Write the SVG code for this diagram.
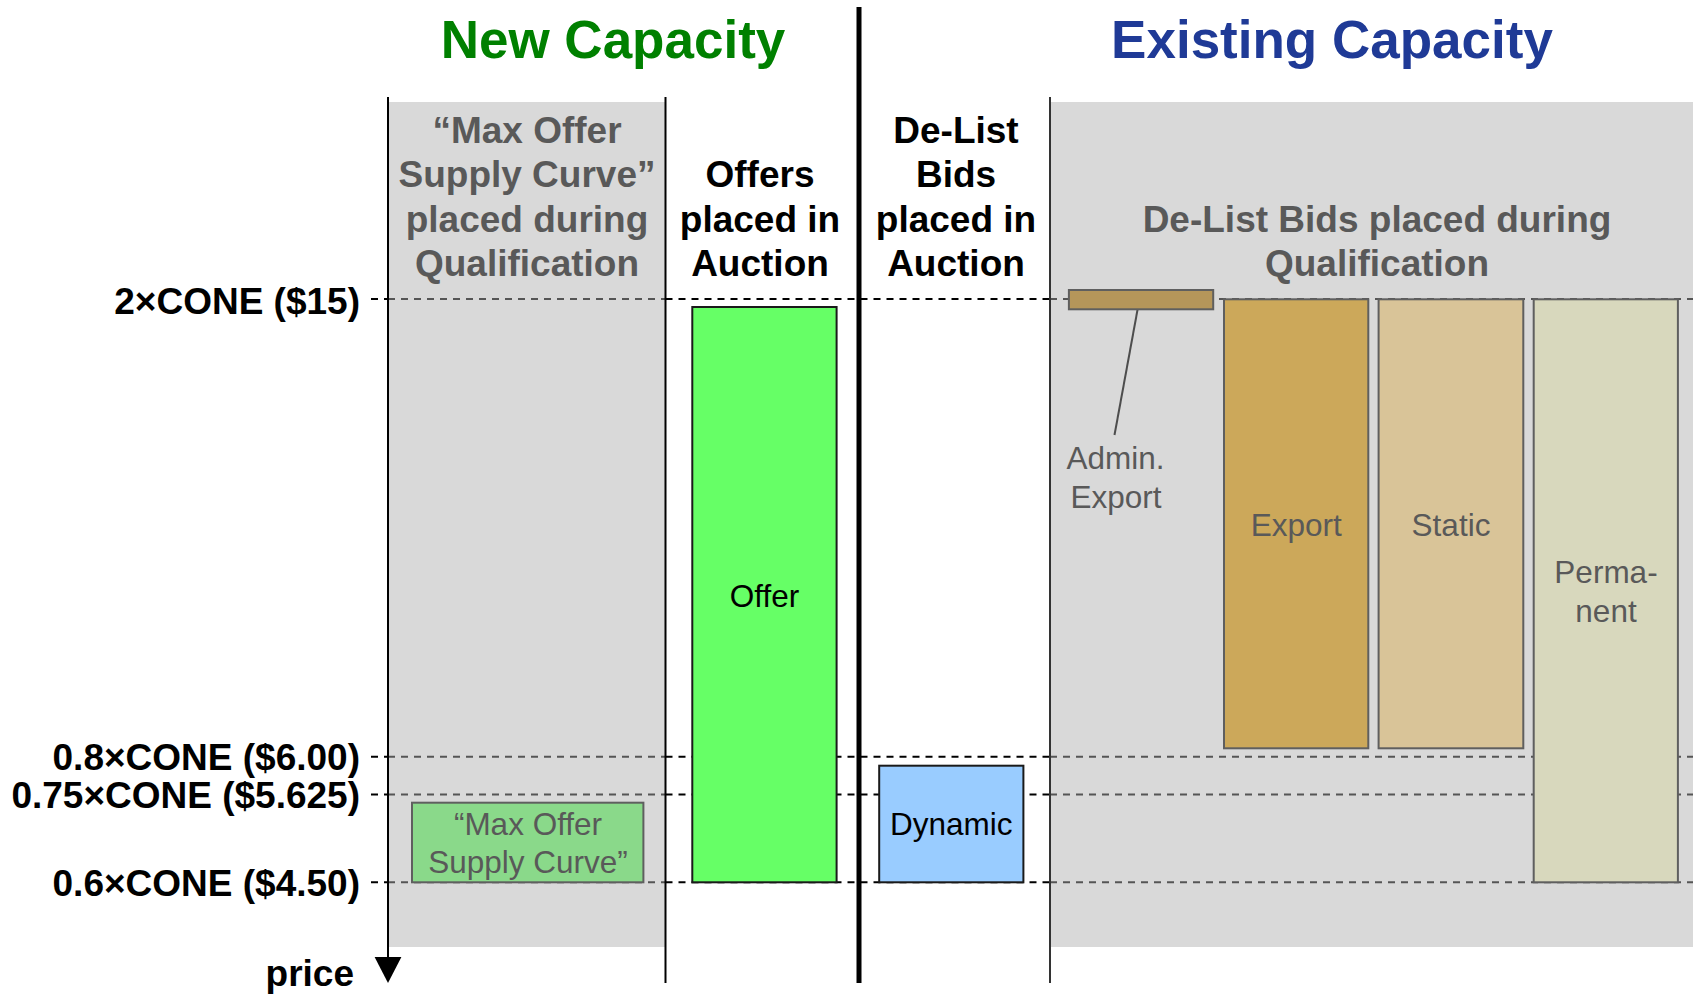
<svg xmlns="http://www.w3.org/2000/svg" width="1693" height="995" viewBox="0 0 1693 995">
<defs>
<style>
text{font-family:"Liberation Sans",Arial,sans-serif}
.title{font-size:53px;font-weight:bold;text-anchor:middle}
.hdr{font-size:37px;font-weight:bold;text-anchor:middle}
.lvl{font-size:37px;font-weight:bold;text-anchor:end;fill:#000}
.lbl{font-size:31.5px;text-anchor:middle}
.gray{fill:#595959}
.blk{fill:#000}
.panel{fill:#d9d9d9}
.dk{stroke:#000;stroke-width:2;stroke-dasharray:7 6;fill:none}
.dg{stroke:#555;stroke-width:2;stroke-dasharray:7 6;fill:none}
.vline{stroke:#000;stroke-width:2;fill:none}
.gbox{stroke:#5f5f5f;stroke-width:2}
.kbox{stroke:#1a1a1a;stroke-width:2}
</style>
</defs>
<rect width="1693" height="995" fill="#fff"/>
<g id="panels">
<rect class="panel" x="388" y="102" width="277.5" height="845"/>
<rect class="panel" x="1050" y="102" width="643" height="845"/>
</g>
<g id="connectors">
<g id="level-lines">
<line class="dk" x1="371" y1="299" x2="388" y2="299"/>
<line class="dg" x1="388" y1="299" x2="665.5" y2="299"/>
<line class="dk" x1="665.5" y1="299" x2="1050" y2="299"/>
<line class="dg" x1="1050" y1="299" x2="1693" y2="299"/>
<line class="dk" x1="371" y1="756.7" x2="388" y2="756.7"/>
<line class="dg" x1="388" y1="756.7" x2="665.5" y2="756.7"/>
<line class="dk" x1="665.5" y1="756.7" x2="1050" y2="756.7"/>
<line class="dg" x1="1050" y1="756.7" x2="1693" y2="756.7"/>
<line class="dk" x1="371" y1="794.5" x2="388" y2="794.5"/>
<line class="dg" x1="388" y1="794.5" x2="665.5" y2="794.5"/>
<line class="dk" x1="665.5" y1="794.5" x2="1050" y2="794.5"/>
<line class="dg" x1="1050" y1="794.5" x2="1693" y2="794.5"/>
<line class="dk" x1="371" y1="882.3" x2="388" y2="882.3"/>
<line class="dg" x1="388" y1="882.3" x2="665.5" y2="882.3"/>
<line class="dk" x1="665.5" y1="882.3" x2="1050" y2="882.3"/>
<line class="dg" x1="1050" y1="882.3" x2="1693" y2="882.3"/>
</g>
<line class="vline" x1="388" y1="97" x2="388" y2="960"/>
<polygon points="374.6,957 401.4,957 388,983" fill="#000"/>
<line class="vline" x1="665.5" y1="97" x2="665.5" y2="983"/>
<line x1="1050" y1="97" x2="1050" y2="983" stroke="#333" stroke-width="2"/>
<line x1="859" y1="7" x2="859" y2="983" stroke="#000" stroke-width="5"/>
<line x1="1139.5" y1="299" x2="1114.5" y2="435" stroke="#4d4d4d" stroke-width="2"/>
</g>
<g id="titles">
<text class="title" x="613" y="58" fill="#008000">New Capacity</text>
<text class="title" x="1332" y="58" fill="#1f3a96">Existing Capacity</text>
</g>
<g id="headers">
<text class="hdr gray"><tspan x="527" y="142.7">“Max Offer</tspan><tspan x="527" y="187">Supply Curve”</tspan><tspan x="527" y="231.5">placed during</tspan><tspan x="527" y="276">Qualification</tspan></text>
<text class="hdr blk"><tspan x="760" y="187">Offers</tspan><tspan x="760" y="231.5">placed in</tspan><tspan x="760" y="276">Auction</tspan></text>
<text class="hdr blk"><tspan x="956" y="142.7">De-List</tspan><tspan x="956" y="187">Bids</tspan><tspan x="956" y="231.5">placed in</tspan><tspan x="956" y="276">Auction</tspan></text>
<text class="hdr gray"><tspan x="1377" y="231.5">De-List Bids placed during</tspan><tspan x="1377" y="276">Qualification</tspan></text>
</g>
<g id="levels">
<text class="lvl" x="360" y="314">2×CONE ($15)</text>
<text class="lvl" x="360" y="770">0.8×CONE ($6.00)</text>
<text class="lvl" x="360" y="808">0.75×CONE ($5.625)</text>
<text class="lvl" x="360" y="896">0.6×CONE ($4.50)</text>
<text class="lvl" x="354" y="986">price</text>
</g>
<g id="node-max-offer">
<rect class="gbox" x="412" y="802.7" width="231.4" height="79.6" fill="#8ad98a"/>
<text class="lbl gray"><tspan x="528" y="835">“Max Offer</tspan><tspan x="528" y="872.5">Supply Curve”</tspan></text>
</g>
<g id="node-offer">
<rect class="kbox" x="692.3" y="307" width="144.3" height="575.3" fill="#66ff66"/>
<text class="lbl blk" x="764.5" y="606.5">Offer</text>
</g>
<g id="node-dynamic">
<rect class="kbox" x="879.2" y="765.7" width="144.2" height="116.6" fill="#99ccff"/>
<text class="lbl blk" x="951.3" y="835">Dynamic</text>
</g>
<g id="node-admin-export">
<rect class="gbox" x="1068.9" y="290" width="144.3" height="19.3" fill="#b5965a"/>
<text class="lbl gray"><tspan x="1115.5" y="469.3">Admin.</tspan><tspan x="1116" y="507.5">Export</tspan></text>
</g>
<g id="node-export">
<rect class="gbox" x="1224" y="299.3" width="144.3" height="449" fill="#cca85a"/>
<text class="lbl gray" x="1296.2" y="536">Export</text>
</g>
<g id="node-static">
<rect class="gbox" x="1378.6" y="299.3" width="144.7" height="449" fill="#d9c498"/>
<text class="lbl gray" x="1451" y="536">Static</text>
</g>
<g id="node-permanent">
<rect class="gbox" x="1533.7" y="299.3" width="144.2" height="583" fill="#d8d8bd"/>
<text class="lbl gray"><tspan x="1606" y="583.3">Perma-</tspan><tspan x="1606" y="621.7">nent</tspan></text>
</g>
</svg>
